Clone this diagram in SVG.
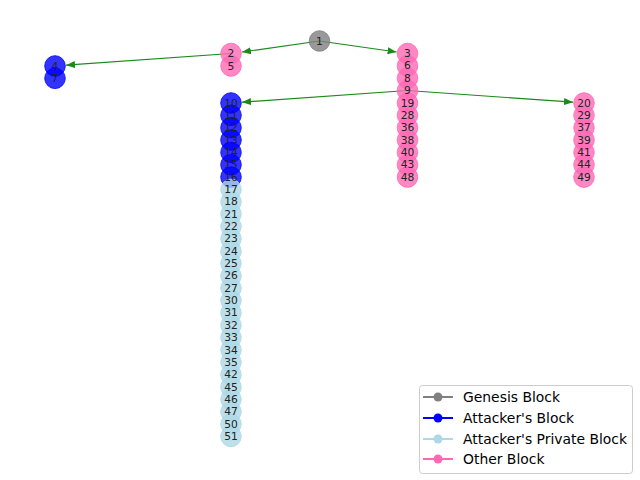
<svg xmlns="http://www.w3.org/2000/svg" width="640" height="480" viewBox="0 0 640 480">
<defs>
<style>
.n circle{stroke-width:1}
.g{fill:#808080;fill-opacity:0.8;stroke:#808080;stroke-opacity:0.8}
.a{fill:#0000ff;fill-opacity:0.8;stroke:#0000ff;stroke-opacity:0.8}
.p{fill:#add8e6;fill-opacity:0.8;stroke:#add8e6;stroke-opacity:0.8}
.o{fill:#ff69b4;fill-opacity:0.8;stroke:#ff69b4;stroke-opacity:0.8}
text{font-family:"DejaVu Sans",sans-serif}
.n text{font-size:10.7px;fill:#222;text-anchor:middle;dominant-baseline:central}
.e line{stroke:#1a8a1a;stroke-width:1.2;marker-end:url(#ah)}
.lg text{font-size:13.9px;fill:#000;dominant-baseline:central}
.lg line{stroke-width:2}
</style>
<marker id="ah" markerUnits="userSpaceOnUse" markerWidth="9" markerHeight="7" refX="9" refY="3.5" orient="auto">
<path d="M0,0 L9,3.5 L0,7 z" fill="#1a8a1a"/>
</marker>
</defs>
<rect width="640" height="480" fill="#fff"/>
<g id="connectors" class="e">
<line x1="319.5" y1="41" x2="241.9" y2="52"/>
<line x1="319.5" y1="41" x2="396.6" y2="52"/>
<line x1="231" y1="53.5" x2="66" y2="65.2"/>
<line x1="407.5" y1="90.5" x2="242" y2="102.2"/>
<line x1="407.5" y1="90.5" x2="573" y2="102.2"/>
</g>
<g class="n">
<g id="node-1"><circle class="g" cx="319.5" cy="41" r="10.3"/></g>
<g id="node-2"><circle class="o" cx="231" cy="53.5" r="10.3"/></g>
<g id="node-5"><circle class="o" cx="231" cy="66" r="10.3"/></g>
<g id="node-4"><circle class="a" cx="55" cy="66" r="10.3"/></g>
<g id="node-7"><circle class="a" cx="55" cy="78.3" r="10.3"/></g>
<g id="node-3"><circle class="o" cx="407.5" cy="53.5" r="10.3"/></g>
<g id="node-6"><circle class="o" cx="407.5" cy="65.9" r="10.3"/></g>
<g id="node-8"><circle class="o" cx="407.5" cy="78.2" r="10.3"/></g>
<g id="node-9"><circle class="o" cx="407.5" cy="90.6" r="10.3"/></g>
<g id="node-19"><circle class="o" cx="407.5" cy="103" r="10.3"/></g>
<g id="node-28"><circle class="o" cx="407.5" cy="115.3" r="10.3"/></g>
<g id="node-36"><circle class="o" cx="407.5" cy="127.7" r="10.3"/></g>
<g id="node-38"><circle class="o" cx="407.5" cy="140" r="10.3"/></g>
<g id="node-40"><circle class="o" cx="407.5" cy="152.4" r="10.3"/></g>
<g id="node-43"><circle class="o" cx="407.5" cy="164.7" r="10.3"/></g>
<g id="node-48"><circle class="o" cx="407.5" cy="177.1" r="10.3"/></g>
<g id="node-20"><circle class="o" cx="584" cy="103" r="10.3"/></g>
<g id="node-29"><circle class="o" cx="584" cy="115.3" r="10.3"/></g>
<g id="node-37"><circle class="o" cx="584" cy="127.7" r="10.3"/></g>
<g id="node-39"><circle class="o" cx="584" cy="140" r="10.3"/></g>
<g id="node-41"><circle class="o" cx="584" cy="152.4" r="10.3"/></g>
<g id="node-44"><circle class="o" cx="584" cy="164.7" r="10.3"/></g>
<g id="node-49"><circle class="o" cx="584" cy="177.1" r="10.3"/></g>
<g id="node-10"><circle class="a" cx="231" cy="103" r="10.3"/></g>
<g id="node-11"><circle class="a" cx="231" cy="115.3" r="10.3"/></g>
<g id="node-12"><circle class="a" cx="231" cy="127.7" r="10.3"/></g>
<g id="node-13"><circle class="a" cx="231" cy="140" r="10.3"/></g>
<g id="node-14"><circle class="a" cx="231" cy="152.4" r="10.3"/></g>
<g id="node-15"><circle class="a" cx="231" cy="164.7" r="10.3"/></g>
<g id="node-16"><circle class="a" cx="231" cy="177.1" r="10.3"/></g>
<g id="node-17"><circle class="p" cx="231" cy="189.4" r="10.3"/></g>
<g id="node-18"><circle class="p" cx="231" cy="201.8" r="10.3"/></g>
<g id="node-21"><circle class="p" cx="231" cy="214.1" r="10.3"/></g>
<g id="node-22"><circle class="p" cx="231" cy="226.5" r="10.3"/></g>
<g id="node-23"><circle class="p" cx="231" cy="238.8" r="10.3"/></g>
<g id="node-24"><circle class="p" cx="231" cy="251.2" r="10.3"/></g>
<g id="node-25"><circle class="p" cx="231" cy="263.5" r="10.3"/></g>
<g id="node-26"><circle class="p" cx="231" cy="275.9" r="10.3"/></g>
<g id="node-27"><circle class="p" cx="231" cy="288.2" r="10.3"/></g>
<g id="node-30"><circle class="p" cx="231" cy="300.6" r="10.3"/></g>
<g id="node-31"><circle class="p" cx="231" cy="312.9" r="10.3"/></g>
<g id="node-32"><circle class="p" cx="231" cy="325.3" r="10.3"/></g>
<g id="node-33"><circle class="p" cx="231" cy="337.6" r="10.3"/></g>
<g id="node-34"><circle class="p" cx="231" cy="350" r="10.3"/></g>
<g id="node-35"><circle class="p" cx="231" cy="362.3" r="10.3"/></g>
<g id="node-42"><circle class="p" cx="231" cy="374.7" r="10.3"/></g>
<g id="node-45"><circle class="p" cx="231" cy="387" r="10.3"/></g>
<g id="node-46"><circle class="p" cx="231" cy="399.4" r="10.3"/></g>
<g id="node-47"><circle class="p" cx="231" cy="411.7" r="10.3"/></g>
<g id="node-50"><circle class="p" cx="231" cy="424.1" r="10.3"/></g>
<g id="node-51"><circle class="p" cx="231" cy="436.4" r="10.3"/></g>
</g>
<g id="labels" class="n">
<text x="319.5" y="41">1</text>
<text x="231" y="53.5">2</text>
<text x="231" y="66">5</text>
<text x="55" y="66">4</text>
<text x="55" y="78.3">7</text>
<text x="407.5" y="53.5">3</text>
<text x="407.5" y="65.9">6</text>
<text x="407.5" y="78.2">8</text>
<text x="407.5" y="90.6">9</text>
<text x="407.5" y="103">19</text>
<text x="407.5" y="115.3">28</text>
<text x="407.5" y="127.7">36</text>
<text x="407.5" y="140">38</text>
<text x="407.5" y="152.4">40</text>
<text x="407.5" y="164.7">43</text>
<text x="407.5" y="177.1">48</text>
<text x="584" y="103">20</text>
<text x="584" y="115.3">29</text>
<text x="584" y="127.7">37</text>
<text x="584" y="140">39</text>
<text x="584" y="152.4">41</text>
<text x="584" y="164.7">44</text>
<text x="584" y="177.1">49</text>
<text x="231" y="103">10</text>
<text x="231" y="115.3">11</text>
<text x="231" y="127.7">12</text>
<text x="231" y="140">13</text>
<text x="231" y="152.4">14</text>
<text x="231" y="164.7">15</text>
<text x="231" y="177.1">16</text>
<text x="231" y="189.4">17</text>
<text x="231" y="201.8">18</text>
<text x="231" y="214.1">21</text>
<text x="231" y="226.5">22</text>
<text x="231" y="238.8">23</text>
<text x="231" y="251.2">24</text>
<text x="231" y="263.5">25</text>
<text x="231" y="275.9">26</text>
<text x="231" y="288.2">27</text>
<text x="231" y="300.6">30</text>
<text x="231" y="312.9">31</text>
<text x="231" y="325.3">32</text>
<text x="231" y="337.6">33</text>
<text x="231" y="350">34</text>
<text x="231" y="362.3">35</text>
<text x="231" y="374.7">42</text>
<text x="231" y="387">45</text>
<text x="231" y="399.4">46</text>
<text x="231" y="411.7">47</text>
<text x="231" y="424.1">50</text>
<text x="231" y="436.4">51</text>
</g>
<g id="legend" class="lg">
<rect x="419.5" y="385.5" width="213" height="88" rx="3" fill="#fff" fill-opacity="0.8" stroke="#ccc"/>
<line x1="423" y1="397" x2="453" y2="397" stroke="#808080"/><circle cx="438" cy="397" r="4.5" fill="#808080"/>
<text x="463" y="397">Genesis Block</text>
<line x1="423" y1="418" x2="453" y2="418" stroke="#0000ff"/><circle cx="438" cy="418" r="4.5" fill="#0000ff"/>
<text x="463" y="418">Attacker's Block</text>
<line x1="423" y1="439" x2="453" y2="439" stroke="#add8e6"/><circle cx="438" cy="439" r="4.5" fill="#add8e6"/>
<text x="463" y="439">Attacker's Private Block</text>
<line x1="423" y1="459" x2="453" y2="459" stroke="#ff69b4"/><circle cx="438" cy="459" r="4.5" fill="#ff69b4"/>
<text x="463" y="459">Other Block</text>
</g>
</svg>
